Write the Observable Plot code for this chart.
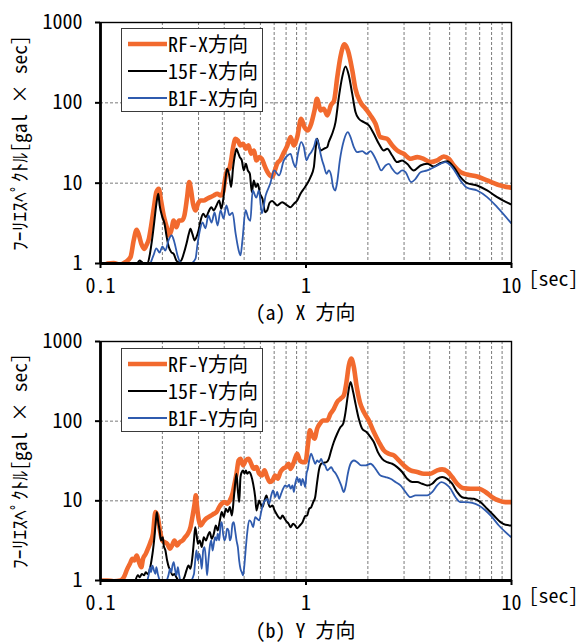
<!DOCTYPE html>
<html>
<head>
<meta charset="utf-8">
<script src="https://cdn.jsdelivr.net/npm/d3@7"></script>
<script src="https://cdn.jsdelivr.net/npm/@observablehq/plot@0.6"></script>
<style>
  body { margin: 0; background: #fff; }
  #chart { width: 579px; font-family: "Noto Sans Mono CJK JP", "Noto Sans CJK JP", sans-serif; color: #000; }
  .panel { position: relative; width: 579px; }
  .caption { height: 24px; line-height: 20px; font-size: 20px; margin-left: 100px; width: 411px; text-align: center; white-space: pre; }
  .legend { position: absolute; left: 121px; width: 142px; background: #fff; border: 1.3px solid #3a3a3a; box-sizing: border-box; padding-top: 1px; }
  .legend .row { height: 27px; display: flex; align-items: center; font-size: 20px; white-space: nowrap; }
  .legend svg { margin-left: 6px; margin-right: 1px; }
</style>
</head>
<body>
<div id="chart"></div>
<script>
// Fourier amplitude spectra, [period (s), amplitude (gal·s)]
const rfX = [[0.108,1.0],[0.116,1.01],[0.125,0.97],[0.132,1.04],[0.140,1.2],[0.145,1.93],[0.150,2.63],[0.154,2.23],[0.158,1.76],[0.163,1.52],[0.167,1.68],[0.172,2.03],[0.176,2.84],[0.182,5.03],[0.187,7.74],[0.192,8.51],[0.197,6.09],[0.203,3.96],[0.210,2.84],[0.215,2.23],[0.221,2.58],[0.227,3.43],[0.234,2.84],[0.241,3.43],[0.249,3.43],[0.256,3.96],[0.264,6.7],[0.270,10.3],[0.276,8.11],[0.282,5.53],[0.290,4.57],[0.298,5.53],[0.307,6.09],[0.318,6.09],[0.330,6.39],[0.343,6.7],[0.356,7.03],[0.370,7.38],[0.384,7.03],[0.395,7.74],[0.404,11.3],[0.413,14.4],[0.423,15.1],[0.432,19.2],[0.442,28.1],[0.454,35.7],[0.466,34.0],[0.480,29.5],[0.494,30.9],[0.510,26.8],[0.525,29.5],[0.541,23.2],[0.557,25.5],[0.574,19.2],[0.592,21.1],[0.610,20.1],[0.628,16.6],[0.647,14.0],[0.667,12.5],[0.685,12.0],[0.703,14.0],[0.724,17.6],[0.751,19.5],[0.780,24.0],[0.810,29.0],[0.841,37.4],[0.872,29.5],[0.906,37.4],[0.947,63.4],[0.983,49.8],[1.02,45.3],[1.06,54.9],[1.10,80.4],[1.13,112],[1.18,80.4],[1.22,84.4],[1.27,69.7],[1.32,92.8],[1.37,107],[1.42,209],[1.47,371],[1.54,534],[1.60,449],[1.68,253],[1.74,150],[1.84,102],[1.95,84.4],[2.06,69.7],[2.18,54.9],[2.30,37.4],[2.48,35.7],[2.63,29.5],[2.78,25.5],[2.99,23.2],[3.23,20.1],[3.48,21.1],[3.74,20.1],[4.03,18.3],[4.35,19.2],[4.68,21.5],[4.95,20.1],[5.24,16.6],[5.65,13.7],[6.09,12.8],[6.81,12.1],[7.62,10.8],[8.52,9.64],[9.97,8.77]];

const f15X = [[0.151,1.0],[0.155,1.09],[0.159,1.04],[0.163,0.99],[0.169,0.99],[0.174,1.32],[0.178,1.94],[0.183,3.43],[0.187,5.53],[0.191,7.38],[0.194,5.28],[0.200,3.78],[0.205,3.12],[0.210,2.13],[0.215,1.6],[0.221,1.38],[0.227,1.32],[0.234,1.09],[0.240,1.04],[0.247,1.09],[0.254,1.32],[0.262,1.76],[0.269,2.34],[0.274,2.7],[0.280,2.34],[0.287,1.94],[0.293,2.13],[0.300,2.58],[0.307,3.43],[0.316,4.16],[0.326,3.78],[0.335,4.36],[0.346,5.03],[0.356,4.57],[0.367,5.28],[0.378,6.09],[0.387,4.8],[0.395,6.09],[0.404,10.3],[0.413,15.1],[0.423,12.5],[0.432,8.93],[0.442,15.8],[0.452,23.2],[0.459,26.8],[0.466,24.4],[0.476,21.1],[0.487,19.2],[0.498,14.4],[0.510,17.4],[0.521,14.4],[0.533,13.1],[0.545,7.74],[0.557,10.8],[0.570,8.93],[0.583,9.82],[0.596,7.5],[0.614,6.39],[0.633,4.36],[0.647,4.57],[0.665,5.7],[0.685,6.0],[0.724,5.28],[0.766,5.8],[0.810,5.28],[0.841,5.03],[0.873,5.53],[0.906,6.09],[0.940,7.38],[0.976,8.51],[1.013,9.82],[1.052,11.9],[1.092,15.8],[1.112,25.5],[1.133,35.7],[1.155,29.5],[1.177,25.5],[1.221,26.8],[1.268,28.1],[1.291,32.5],[1.341,41.2],[1.392,57.6],[1.445,118],[1.500,209],[1.557,284],[1.616,219],[1.678,130],[1.741,76.7],[1.807,63.4],[1.912,57.6],[2.022,52.4],[2.138,41.2],[2.262,30.9],[2.392,25.5],[2.483,26.8],[2.626,22.1],[2.777,18.3],[2.938,19.2],[3.107,17.4],[3.347,14.4],[3.608,16.6],[3.888,17.4],[4.190,16.1],[4.513,17.8],[4.863,18.8],[5.242,15.8],[5.648,11.9],[6.085,10.0],[6.807,9.35],[7.612,8.11],[8.517,6.70],[9.96,5.43]];

const b1X = [[0.175,1.0],[0.181,1.26],[0.187,1.54],[0.194,1.37],[0.200,1.63],[0.207,1.45],[0.214,1.93],[0.222,2.23],[0.229,1.83],[0.237,1.26],[0.245,1.03],[0.259,1.0],[0.274,1.0],[0.290,1.15],[0.296,1.68],[0.303,2.43],[0.314,3.24],[0.324,2.73],[0.335,3.96],[0.347,3.24],[0.359,4.32],[0.371,2.97],[0.384,4.57],[0.397,3.63],[0.410,5.28],[0.424,4.0],[0.439,4.3],[0.454,2.4],[0.469,1.5],[0.480,1.26],[0.491,2.0],[0.508,4.6],[0.525,3.6],[0.536,3.4],[0.550,8.1],[0.573,6.6],[0.590,8.1],[0.610,4.2],[0.636,7.0],[0.670,9.9],[0.700,14.4],[0.740,12.5],[0.780,19.2],[0.813,22.1],[0.841,23.2],[0.866,18.3],[0.889,15.8],[0.913,23.2],[0.947,32.5],[0.976,28.1],[1.006,19.2],[1.032,22.1],[1.060,24.3],[1.092,28.1],[1.125,35.7],[1.155,29.5],[1.177,23.2],[1.199,19.2],[1.221,16.6],[1.258,13.1],[1.291,14.4],[1.326,12.5],[1.356,8.93],[1.387,8.11],[1.418,10.3],[1.461,19.2],[1.528,34.0],[1.598,43.2],[1.647,37.4],[1.709,28.1],[1.774,24.3],[1.877,25.0],[1.970,23.2],[2.061,25.0],[2.138,22.1],[2.237,17.4],[2.322,14.4],[2.438,16.6],[2.530,17.4],[2.626,15.1],[2.777,13.1],[2.938,14.4],[3.050,13.7],[3.250,10.3],[3.412,11.3],[3.608,13.7],[3.888,14.4],[4.190,15.8],[4.513,17.4],[4.773,18.3],[5.049,16.6],[5.341,13.7],[5.648,10.8],[6.085,8.75],[6.807,8.11],[7.612,6.70],[8.517,5.03],[9.96,3.18]];

const rfY = [[0.100,1.0],[0.108,1.0],[0.116,0.98],[0.125,1.0],[0.130,1.1],[0.135,1.4],[0.139,1.62],[0.143,1.87],[0.146,1.78],[0.150,2.06],[0.154,1.7],[0.158,1.47],[0.161,1.87],[0.166,2.16],[0.170,2.5],[0.175,3.03],[0.180,3.86],[0.185,7.22],[0.190,6.25],[0.194,4.46],[0.200,3.18],[0.205,3.03],[0.211,2.89],[0.218,2.5],[0.223,2.76],[0.229,3.18],[0.236,2.76],[0.243,3.03],[0.251,3.18],[0.258,3.5],[0.266,3.86],[0.274,4.67],[0.280,6.25],[0.287,9.19],[0.291,11.7],[0.295,8.34],[0.301,5.68],[0.307,4.91],[0.316,5.41],[0.326,5.96],[0.335,6.25],[0.346,6.56],[0.356,6.89],[0.367,7.22],[0.378,8.34],[0.389,9.19],[0.401,9.64],[0.413,9.19],[0.426,10.1],[0.439,12.3],[0.449,16.4],[0.459,21.9],[0.470,32.2],[0.480,33.8],[0.494,27.9],[0.510,32.2],[0.525,33.8],[0.541,29.2],[0.557,25.3],[0.574,26.5],[0.592,21.9],[0.610,20.8],[0.628,24.1],[0.647,19.9],[0.667,17.2],[0.687,18.0],[0.708,20.8],[0.729,18.9],[0.751,23.0],[0.774,25.3],[0.798,26.5],[0.822,29.2],[0.841,25.2],[0.873,30.6],[0.906,39.0],[0.933,32.1],[0.962,30.6],[0.994,30.6],[1.021,49.6],[1.044,76.6],[1.072,66.3],[1.100,60.2],[1.133,80.4],[1.168,92.9],[1.212,102],[1.268,102],[1.316,124],[1.366,143],[1.418,174],[1.472,191],[1.528,211],[1.574,310],[1.616,502],[1.659,609],[1.709,479],[1.761,281],[1.828,174],[1.912,130],[2.022,102],[2.138,73.0],[2.262,54.7],[2.392,43.0],[2.530,39.0],[2.676,37.2],[2.830,32.1],[2.993,27.8],[3.225,24.1],[3.475,23.0],[3.745,21.9],[4.035,21.9],[4.347,24.1],[4.599,24.8],[4.863,23.4],[5.143,19.9],[5.439,16.4],[5.861,14.4],[6.317,14.2],[6.936,14.2],[7.473,12.9],[8.052,11.1],[8.679,10.1],[9.35,9.63],[9.96,9.63]];

const f15Y = [[0.148,1.0],[0.152,1.16],[0.155,1.1],[0.159,1.21],[0.163,1.16],[0.166,1.27],[0.170,1.21],[0.174,1.4],[0.177,1.78],[0.180,2.38],[0.183,3.5],[0.186,5.68],[0.188,7.22],[0.191,5.41],[0.194,4.24],[0.197,3.18],[0.201,3.5],[0.203,2.76],[0.207,2.38],[0.211,1.78],[0.215,1.47],[0.219,1.34],[0.224,1.16],[0.229,1.21],[0.234,1.1],[0.240,1.0],[0.250,1.0],[0.256,1.1],[0.262,1.34],[0.268,1.54],[0.274,1.4],[0.280,1.96],[0.285,3.18],[0.289,4.67],[0.293,3.86],[0.298,2.89],[0.304,3.18],[0.311,2.63],[0.318,3.5],[0.326,3.18],[0.333,3.67],[0.340,4.05],[0.348,3.34],[0.356,3.86],[0.364,4.91],[0.372,4.24],[0.381,5.68],[0.389,7.22],[0.398,6.25],[0.407,7.94],[0.417,7.22],[0.426,8.34],[0.436,6.56],[0.445,10.6],[0.452,16.4],[0.459,21.9],[0.466,13.5],[0.473,9.64],[0.480,19.9],[0.487,23.0],[0.494,24.1],[0.502,21.9],[0.510,24.1],[0.517,21.9],[0.529,23.0],[0.541,20.8],[0.553,16.4],[0.566,11.1],[0.574,7.58],[0.583,8.75],[0.592,10.1],[0.601,9.19],[0.614,8.34],[0.628,10.1],[0.642,11.7],[0.657,9.19],[0.667,8.34],[0.687,8.75],[0.703,7.58],[0.718,6.89],[0.735,6.25],[0.751,5.96],[0.768,6.56],[0.786,6.0],[0.804,5.5],[0.822,5.2],[0.841,4.67],[0.866,5.14],[0.886,4.9],[0.906,4.54],[0.933,4.9],[0.962,5.4],[0.991,6.42],[1.013,6.55],[1.036,7.94],[1.060,8.33],[1.084,9.63],[1.108,11.1],[1.133,17.2],[1.159,25.2],[1.185,29.2],[1.221,30.1],[1.258,30.6],[1.291,33.7],[1.326,43.0],[1.366,54.7],[1.418,69.5],[1.472,84.3],[1.517,92.9],[1.557,130],[1.598,211],[1.647,310],[1.696,232],[1.748,158],[1.807,107],[1.877,80.4],[1.970,73.0],[2.061,63.1],[2.138,54.7],[2.237,40.9],[2.348,33.7],[2.483,30.6],[2.626,29.2],[2.777,26.5],[2.938,23.0],[3.107,18.9],[3.287,17.2],[3.475,17.2],[3.675,16.4],[3.888,15.6],[4.112,16.4],[4.347,18.9],[4.599,19.9],[4.863,18.9],[5.143,16.4],[5.439,12.9],[5.754,11.1],[6.085,10.8],[6.558,10.6],[7.066,9.63],[7.612,7.94],[8.204,6.55],[8.841,5.4],[9.35,5.0],[9.96,4.9]];

const b1Y = [[0.169,1.0],[0.172,1.21],[0.174,1.47],[0.176,1.27],[0.179,1.54],[0.182,1.34],[0.185,1.21],[0.187,1.47],[0.190,1.21],[0.193,1.05],[0.196,1.0],[0.209,1.0],[0.214,1.16],[0.218,1.4],[0.221,1.27],[0.224,1.54],[0.227,1.7],[0.231,1.34],[0.234,1.16],[0.238,1.47],[0.241,1.21],[0.245,1.0],[0.274,1.0],[0.285,1.21],[0.289,1.78],[0.293,2.38],[0.298,1.78],[0.302,2.16],[0.307,1.87],[0.311,1.4],[0.316,2.38],[0.321,2.63],[0.326,1.78],[0.330,1.16],[0.335,1.78],[0.340,2.63],[0.346,3.18],[0.351,2.38],[0.356,2.89],[0.361,3.5],[0.367,3.18],[0.372,3.86],[0.378,3.18],[0.384,4.91],[0.389,5.41],[0.395,3.86],[0.401,3.18],[0.407,3.5],[0.413,4.46],[0.420,4.24],[0.426,3.18],[0.432,3.5],[0.439,5.16],[0.445,5.41],[0.452,4.24],[0.459,3.18],[0.466,2.63],[0.473,1.78],[0.480,1.4],[0.487,1.27],[0.494,1.16],[0.502,1.62],[0.510,2.63],[0.517,3.86],[0.529,5.68],[0.541,5.41],[0.553,4.67],[0.566,6.25],[0.578,5.96],[0.592,5.68],[0.605,7.22],[0.619,9.19],[0.633,10.1],[0.647,10.6],[0.662,9.19],[0.677,11.7],[0.692,13.5],[0.708,11.1],[0.724,12.9],[0.740,10.6],[0.757,12.3],[0.774,14.2],[0.792,15.6],[0.810,15.0],[0.828,16.0],[0.841,14.2],[0.860,15.6],[0.873,12.9],[0.886,16.4],[0.906,19.9],[0.919,17.2],[0.933,18.9],[0.947,15.6],[0.962,18.9],[0.976,17.2],[0.991,14.9],[1.006,21.9],[1.021,25.2],[1.036,32.1],[1.060,39.0],[1.084,33.7],[1.108,29.2],[1.133,32.1],[1.159,30.6],[1.185,33.7],[1.212,29.2],[1.240,27.8],[1.268,24.1],[1.297,25.2],[1.326,26.5],[1.356,24.1],[1.397,21.9],[1.439,18.9],[1.483,15.6],[1.528,12.9],[1.562,15.6],[1.598,21.9],[1.647,29.2],[1.709,32.1],[1.774,30.6],[1.855,27.8],[1.948,27.8],[2.061,29.2],[2.179,25.2],[2.304,20.8],[2.438,19.9],[2.578,18.9],[2.726,17.2],[2.883,15.6],[3.050,12.9],[3.225,11.1],[3.412,11.7],[3.608,11.7],[3.888,11.7],[4.112,12.9],[4.347,15.6],[4.547,17.2],[4.773,16.4],[5.049,14.2],[5.341,11.1],[5.648,9.63],[5.972,9.63],[6.438,9.44],[6.936,8.75],[7.473,7.57],[8.052,6.24],[8.679,4.9],[9.35,4.04],[9.96,3.5]];

// Series names, axis ticks and captions
const namesX = ["RF-X方向", "15F-X方向", "B1F-X方向"];
const namesY = ["RF-Y方向", "15F-Y方向", "B1F-Y方向"];
const xTicks = [0.1, 1, 10];
const xGridLines = [0.2, 0.3, 0.4, 0.5, 0.6, 0.7, 0.8, 0.9, 1, 2, 3, 4, 5, 6, 7, 8, 9];
const yTicks = [1, 10, 100, 1000];
const yGridLines = [10, 100];
const yTitle = "ﾌｰﾘｴｽﾍﾟｸﾄﾙ[gal × sec]";
const xUnit = "[sec]";
const captions = ["(a) X 方向", "(b) Y 方向"];

const styles = [
  {color: "#F26A2E", width: 4.6},
  {color: "#000000", width: 2},
  {color: "#2F5BAE", width: 1.8}
];
const FONT = '"Noto Sans Mono CJK JP", "Noto Sans CJK JP", sans-serif';
const TITLE_SPAN = 216; // length of the rotated axis title along the frame

function spectrumPlot(seriesList, height, marginTop, marginBottom) {
  const lineMarks = seriesList.map((s, i) =>
    Plot.line(s, {
      x: d => d[0], y: d => d[1],
      stroke: styles[i].color, strokeWidth: styles[i].width,
      curve: "monotone-x", clip: true, strokeLinejoin: "round"
    })
  );
  return Plot.plot({
    width: 579, height,
    marginLeft: 100, marginRight: 68, marginTop, marginBottom,
    style: {fontFamily: FONT, fontSize: "20px", background: "#fff", overflow: "visible"},
    x: {type: "log", domain: [0.1, 10], label: null},
    y: {type: "log", domain: [1, 1000], label: null},
    marks: [
      Plot.gridX(xGridLines, {stroke: "#7a7a7a", strokeOpacity: 1, strokeDasharray: "3,2", strokeWidth: 1}),
      Plot.gridY(yGridLines, {stroke: "#7a7a7a", strokeOpacity: 1, strokeDasharray: "3,2", strokeWidth: 1}),
      ...lineMarks,
      Plot.frame({stroke: "#000", strokeWidth: 1.4}),
      Plot.ruleX([0.1], {stroke: "#000", strokeWidth: 2.8}),
      Plot.ruleY([1], {stroke: "#000", strokeWidth: 2.8}),
      Plot.axisX(xTicks, {tickSize: 5, tickPadding: 10, strokeWidth: 2, fontSize: 20,
        tickFormat: d => d < 1 ? "0.1" : String(d)}),
      Plot.axisY(yTicks, {tickSize: 5, tickPadding: 13, strokeWidth: 2, fontSize: 20,
        tickFormat: d => String(d)}),
      Plot.text([xUnit], {frameAnchor: "bottom-right", dx: 17, dy: 22, textAnchor: "start", fontSize: 20}),
      Plot.text([yTitle], {frameAnchor: "left", textAnchor: "middle", rotate: -90, dx: -80, dy: 0, fontSize: 18})
    ]
  });
}

// size the rotated axis title so it spans the frame height
function fitTitle(svg) {
  const t = Array.from(svg.querySelectorAll("text")).find(e => e.textContent === yTitle);
  if (!t) return;
  const len = t.getComputedTextLength();
  if (len > 0) {
    const size = Math.max(11, Math.min(20, 18 * TITLE_SPAN / len));
    t.style.fontSize = size + "px";
  }
}

function legendBox(names, top) {
  const box = document.createElement("div");
  box.className = "legend";
  box.style.top = top + "px";
  names.forEach((name, i) => {
    const row = document.createElement("div");
    row.className = "row";
    row.innerHTML = `<svg width="39" height="10"><line x1="0" y1="5" x2="39" y2="5" stroke="${styles[i].color}" stroke-width="${styles[i].width}"/></svg><span>${name}</span>`;
    box.appendChild(row);
  });
  return box;
}

function addPanel(seriesList, names, caption, height, marginTop, marginBottom, legendTop) {
  const panel = document.createElement("div");
  panel.className = "panel";
  const svg = spectrumPlot(seriesList, height, marginTop, marginBottom);
  panel.appendChild(svg);
  panel.appendChild(legendBox(names, legendTop));
  document.getElementById("chart").appendChild(panel);
  fitTitle(svg);
  const cap = document.createElement("div");
  cap.className = "caption";
  cap.textContent = caption;
  document.getElementById("chart").appendChild(cap);
}

addPanel([rfX, f15X, b1X], namesX, captions[0], 302, 22, 39, 28);
addPanel([rfY, f15Y, b1Y], namesY, captions[1], 294, 15, 40, 22);
</script>
</body>
</html>
